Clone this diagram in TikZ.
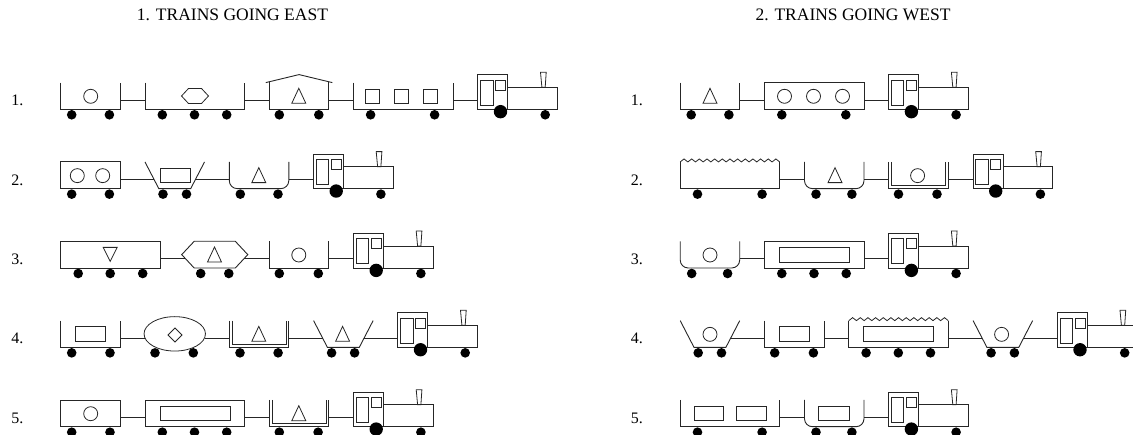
\documentclass[tikz,border=0pt]{standalone}
\usepackage{fontspec}
\setmainfont{Liberation Serif}
\usepackage{tikz}
\usetikzlibrary{positioning}
\tikzstyle{car}=[draw=black!85,line width=0.9pt]
\tikzstyle{load}=[draw=black!85,line width=0.8pt]
\tikzstyle{wheel}=[fill=black]
\tikzstyle{coupling}=[draw=black!85,line width=0.9pt]
\tikzstyle{title}=[font=\fontsize{17.5}{20}\selectfont]
\tikzstyle{num}=[font=\fontsize{16}{18}\selectfont]

% cars: #1 name, #2 x, #3 bottom, #4 length, #5 wheels, #6 load
\newcommand{\opencar}[6]{%
  \begin{scope}[shift={(#2,#3)}]
    \draw[car] (0,26.7) -- (0,0) -- (#4,0) -- (#4,26.7);
    \coordinate (#1-l) at (0,9.3);
    \coordinate (#1-r) at (#4,9.3);
    \foreach \w in {#5} \fill[wheel] (\w,-5.5) circle (4.8pt);
    #6
  \end{scope}}
\newcommand{\closedcar}[6]{%
  \begin{scope}[shift={(#2,#3)}]
    \draw[car] (0,0) rectangle (#4,26.7);
    \coordinate (#1-l) at (0,9.3);
    \coordinate (#1-r) at (#4,9.3);
    \foreach \w in {#5} \fill[wheel] (\w,-5.5) circle (4.8pt);
    #6
  \end{scope}}
\newcommand{\jagcar}[6]{%
  \begin{scope}[shift={(#2,#3)}]
    \draw[car] (0,26.7) -- (0,0) -- (#4,0) -- (#4,26.7);
    \draw[load] (0,26.7) \foreach \i in {1,...,13} {-- ({(\i-0.5)*#4/13},29.7) -- ({\i*#4/13},26.7)};
    \coordinate (#1-l) at (0,9.3);
    \coordinate (#1-r) at (#4,9.3);
    \foreach \w in {#5} \fill[wheel] (\w,-5.5) circle (4.8pt);
    #6
  \end{scope}}
\newcommand{\roofcar}[6]{%
  \begin{scope}[shift={(#2,#3)}]
    \draw[car] (0,27.5) -- (0,0) -- (#4,0) -- (#4,27.5);
    \draw[car] (-3.5,26.7) -- (#4/2,34.7) -- (#4+3.5,26.7);
    \coordinate (#1-l) at (0,9.3);
    \coordinate (#1-r) at (#4,9.3);
    \foreach \w in {#5} \fill[wheel] (\w,-5.5) circle (4.8pt);
    #6
  \end{scope}}
\newcommand{\roundcar}[6]{%
  \begin{scope}[shift={(#2,#3)}]
    \draw[car,rounded corners=8pt] (0,26.7) -- (0,0) -- (#4,0) -- (#4,26.7);
    \coordinate (#1-l) at (0,9.3);
    \coordinate (#1-r) at (#4,9.3);
    \foreach \w in {#5} \fill[wheel] (\w,-5.5) circle (4.8pt);
    #6
  \end{scope}}
\newcommand{\doublecar}[6]{%
  \begin{scope}[shift={(#2,#3)}]
    \draw[car] (0,26.7) -- (0,0) -- (#4,0) -- (#4,26.7);
    \draw[load] (2.8,26.7) -- (2.8,2.8) -- (#4-2.8,2.8) -- (#4-2.8,26.7);
    \coordinate (#1-l) at (0,9.3);
    \coordinate (#1-r) at (#4,9.3);
    \foreach \w in {#5} \fill[wheel] (\w,-5.5) circle (4.8pt);
    #6
  \end{scope}}
\newcommand{\hoppercar}[6]{%
  \begin{scope}[shift={(#2,#3)}]
    \draw[car] (0,26.7) -- (13.8,0) -- (#4-13.8,0) -- (#4,26.7);
    \coordinate (#1-l) at (9,9.3);
    \coordinate (#1-r) at (#4-9,9.3);
    \foreach \w in {#5} \fill[wheel] (\w,-5.5) circle (4.8pt);
    #6
  \end{scope}}
\newcommand{\hexcar}[6]{%
  \begin{scope}[shift={(#2,#3)}]
    \draw[car] (-3.3,13.35) -- (9.2,26.7) -- (#4-9.2,26.7) -- (#4+3.3,13.35) -- (#4-9.2,0) -- (9.2,0) -- cycle;
    \coordinate (#1-l) at (0.4,9.3);
    \coordinate (#1-r) at (#4-0.4,9.3);
    \foreach \w in {#5} \fill[wheel] (\w,-5.5) circle (4.8pt);
    #6
  \end{scope}}
\newcommand{\ovalcar}[6]{%
  \begin{scope}[shift={(#2,#3)}]
    \draw[load] (#4/2,13.5) ellipse (30.7pt and 17.2pt);
    \coordinate (#1-l) at (0,9.3);
    \coordinate (#1-r) at (#4,9.3);
    \foreach \w in {#5} \fill[wheel] (\w,-5.5) circle (4.8pt);
    #6
  \end{scope}}
\newcommand{\engine}[3]{%
  \begin{scope}[shift={(#2,#3)}]
    \draw[car] (0,0) rectangle (30,34.6);
    \draw[car] (30,0) rectangle (79.5,22);
    \draw[load] (2.7,4.3) rectangle (15,29.3);
    \draw[load] (17.7,19.3) rectangle (27.5,29.3);
    \draw[load] (62.6,37) -- (68.3,37) -- (67.3,22) -- (64,22) -- cycle;
    \fill[wheel] (22.6,-2.4) circle (6.7pt);
    \fill[wheel] (67.3,-5.5) circle (4.8pt);
    \coordinate (#1-l) at (0,9.3);
  \end{scope}}

% loads, in the car's own coordinates
\newcommand{\ldcircle}[1]{\draw[load] (#1,13) circle (7pt);}
\newcommand{\ldtri}[1]{\draw[load] (#1,21) -- (#1+7,6) -- (#1-7,6) -- cycle;}
\newcommand{\ldinvtri}[1]{\draw[load] (#1,6.6) -- (#1+7,20.6) -- (#1-7,20.6) -- cycle;}
\newcommand{\ldrect}[2]{\draw[load] (#1,6) rectangle (#2,20.5);}
\newcommand{\ldsquare}[1]{\draw[load] (#1-7,6) rectangle (#1+7,20);}
\newcommand{\ldhex}[1]{\draw[load] (#1-13.5,13.3) -- (#1-6.5,20.8) -- (#1+6.5,20.8) -- (#1+13.5,13.3) -- (#1+6.5,5.8) -- (#1-6.5,5.8) -- cycle;}
\newcommand{\lddiamond}[1]{\draw[load] (#1,19.3) -- (#1+7,12.3) -- (#1,5.3) -- (#1-7,12.3) -- cycle;}

\begin{document}
\begin{tikzpicture}[x=1pt,y=1pt]
\useasboundingbox (0,0) rectangle (1133,-435);

\node[title] (east) at (232.5,-15) {1. TRAINS GOING EAST};
\node[title] (west) at (853,-15) {2. TRAINS GOING WEST};

% east 1
\node[num] (e1) at (17.3,-100.8) {1.};
\opencar{e1a}{60.7}{-109.3}{59.5}{11,48.7}{\ldcircle{30}}
\opencar{e1b}{145}{-109.3}{99.5}{17.3,49.5,81.7}{\ldhex{50}}
\roofcar{e1c}{269.3}{-109.3}{59.5}{10,49.5}{\ldtri{29.5}}
\opencar{e1d}{353.6}{-109.3}{99.5}{17,81}{\ldsquare{19}\ldsquare{48}\ldsquare{77}}
\engine{e1e}{477.9}{-109.3}
\draw[coupling] (e1a-r) -- (e1b-l);
\draw[coupling] (e1b-r) -- (e1c-l);
\draw[coupling] (e1c-r) -- (e1d-l);
\draw[coupling] (e1d-r) -- (e1e-l);

% east 2
\node[num] (e2) at (17.3,-180.1) {2.};
\closedcar{e2a}{60.7}{-188.65}{59.5}{11,48.7}{\ldcircle{16.6}\ldcircle{42}}
\hoppercar{e2b}{145}{-188.65}{59.5}{18,41.5}{\ldrect{15}{45}}
\roundcar{e2c}{229.3}{-188.65}{59.5}{11,48.7}{\ldtri{29.5}}
\engine{e2e}{313.6}{-188.65}
\draw[coupling] (e2a-r) -- (e2b-l);
\draw[coupling] (e2b-r) -- (e2c-l);
\draw[coupling] (e2c-r) -- (e2e-l);

% east 3
\node[num] (e3) at (17.3,-259.5) {3.};
\closedcar{e3a}{60.7}{-268}{99.5}{17.5,49.5,82}{\ldinvtri{49.5}}
\hexcar{e3b}{185}{-268}{59.5}{15.7,43.8}{\ldtri{29.5}}
\opencar{e3c}{269.3}{-268}{59.5}{10,49}{\ldcircle{29.5}}
\engine{e3e}{353.6}{-268}
\draw[coupling] (e3a-r) -- (e3b-l);
\draw[coupling] (e3b-r) -- (e3c-l);
\draw[coupling] (e3c-r) -- (e3e-l);

% east 4
\node[num] (e4) at (17.3,-338.8) {4.};
\opencar{e4a}{60.7}{-347.35}{59.5}{11,49.3}{\ldrect{15}{45}}
\ovalcar{e4b}{145}{-347.35}{59.5}{10,48.3}{\lddiamond{30}}
\doublecar{e4c}{229.3}{-347.35}{59.5}{10.7,48.8}{\ldtri{29.5}}
\hoppercar{e4d}{313.6}{-347.35}{59.5}{18,41}{\ldtri{29}}
\engine{e4e}{397.9}{-347.35}
\draw[coupling] (e4a-r) -- (e4b-l);
\draw[coupling] (e4b-r) -- (e4c-l);
\draw[coupling] (e4c-r) -- (e4d-l);
\draw[coupling] (e4d-r) -- (e4e-l);

% east 5
\node[num] (e5) at (17.3,-418.2) {5.};
\closedcar{e5a}{60.7}{-426.7}{59.5}{11,49.3}{\ldcircle{30}}
\closedcar{e5b}{145}{-426.7}{99.5}{17.3,49.5,81.7}{\ldrect{15}{85}}
\doublecar{e5c}{269.3}{-426.7}{59.5}{10,48.8}{\ldtri{29.5}}
\engine{e5e}{353.6}{-426.7}
\draw[coupling] (e5a-r) -- (e5b-l);
\draw[coupling] (e5b-r) -- (e5c-l);
\draw[coupling] (e5c-r) -- (e5e-l);

% west 1
\node[num] (w1) at (636.8,-100.8) {1.};
\opencar{w1a}{680.2}{-109.3}{59.5}{11,48.7}{\ldtri{29.8}}
\closedcar{w1b}{764.5}{-109.3}{99.5}{17.3,81.3}{\ldcircle{20}\ldcircle{49}\ldcircle{78}}
\engine{w1e}{888.8}{-109.3}
\draw[coupling] (w1a-r) -- (w1b-l);
\draw[coupling] (w1b-r) -- (w1e-l);

% west 2
\node[num] (w2) at (636.8,-180.1) {2.};
\jagcar{w2a}{680.2}{-188.65}{99.5}{17.3,81.9}{}
\roundcar{w2b}{804.5}{-188.65}{59.5}{11.5,47.4}{\ldtri{30.5}}
\doublecar{w2c}{888.8}{-188.65}{59.5}{9.7,48.2}{\ldcircle{28.8}}
\engine{w2e}{973.1}{-188.65}
\draw[coupling] (w2a-r) -- (w2b-l);
\draw[coupling] (w2b-r) -- (w2c-l);
\draw[coupling] (w2c-r) -- (w2e-l);

% west 3
\node[num] (w3) at (636.8,-259.5) {3.};
\roundcar{w3a}{680.2}{-268}{59.5}{11.5,47.4}{\ldcircle{29.8}}
\closedcar{w3b}{764.5}{-268}{99.5}{17.3,49.5,81.7}{\ldrect{15}{85}}
\engine{w3e}{888.8}{-268}
\draw[coupling] (w3a-r) -- (w3b-l);
\draw[coupling] (w3b-r) -- (w3e-l);

% west 4
\node[num] (w4) at (636.8,-338.8) {4.};
\hoppercar{w4a}{680.2}{-347.35}{59.5}{18,41.3}{\ldcircle{29.8}}
\opencar{w4b}{764.5}{-347.35}{59.5}{10.2,48.9}{\ldrect{15}{45}}
\jagcar{w4c}{848.8}{-347.35}{99.5}{17.3,49.5,81.7}{\ldrect{15}{85}}
\hoppercar{w4d}{973.1}{-347.35}{59.5}{18,41.3}{\ldcircle{28.5}}
\engine{w4e}{1057.4}{-347.35}
\draw[coupling] (w4a-r) -- (w4b-l);
\draw[coupling] (w4b-r) -- (w4c-l);
\draw[coupling] (w4c-r) -- (w4d-l);
\draw[coupling] (w4d-r) -- (w4e-l);

% west 5
\node[num] (w5) at (636.8,-418.2) {5.};
\opencar{w5a}{680.2}{-426.7}{99.5}{17.3,81.9}{\ldrect{13.7}{43.1}\ldrect{55.7}{86.2}}
\roundcar{w5b}{804.5}{-426.7}{59.5}{11.5,47.4}{\ldrect{14.3}{44.5}}
\engine{w5e}{888.8}{-426.7}
\draw[coupling] (w5a-r) -- (w5b-l);
\draw[coupling] (w5b-r) -- (w5e-l);
\end{tikzpicture}
\end{document}
